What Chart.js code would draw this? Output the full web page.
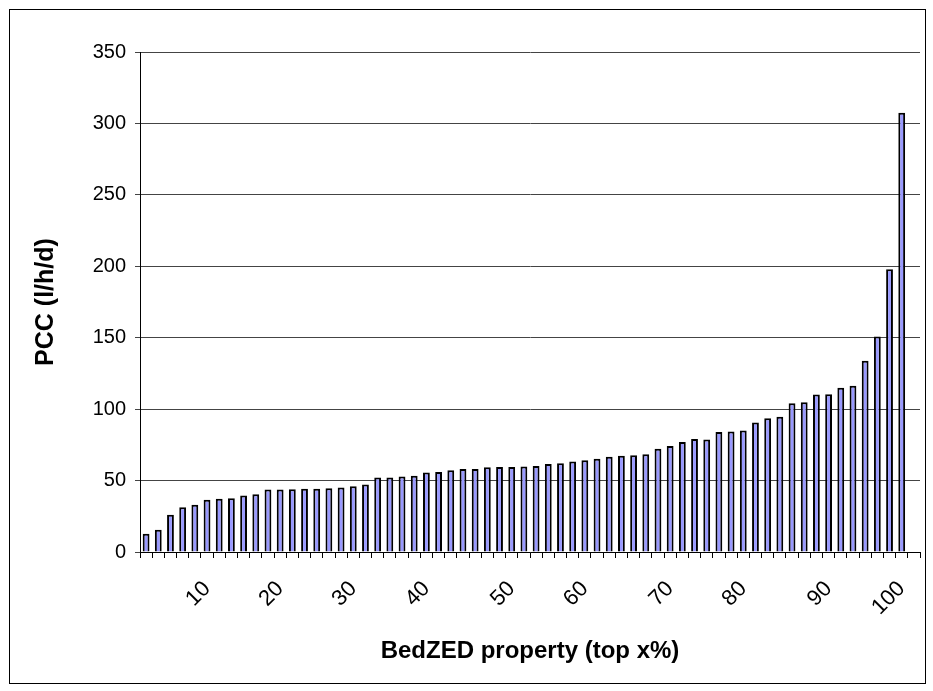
<!DOCTYPE html>
<html>
<head>
<meta charset="utf-8">
<script src="https://cdn.jsdelivr.net/npm/chart.js@4"></script>
<style>
  body { margin: 0; background: #fff; }
  #box { position: absolute; left: 9px; top: 9px; width: 915px; height: 673px; border: 1px solid #000; }
  canvas { display: block; }
</style>
</head>
<body>
<div id="box"><canvas id="pccChart" width="915" height="673"></canvas></div>
<script>
// PCC per property, sorted ascending (63 properties)
const pccValues = [
  12.8, 15.6, 26, 31.4, 33, 36.5, 37.2, 37.7, 39.5, 40.5,
  43.7, 43.7, 44, 44.2, 44.2, 44.7, 45.1, 46, 47.2, 52.1,
  52.1, 52.8, 53.3, 55.6, 56, 57.2, 58.1, 58.1, 59.3, 59.5,
  59.5, 59.8, 60.2, 61.6, 62.1, 63.3, 64.2, 65.3, 66.7, 67.4,
  67.7, 68.4, 72.3, 74.2, 77, 79.1, 78.8, 84, 84.4, 85.1,
  90.7, 93.7, 94.7, 104.2, 104.9, 110.3, 110.5, 115, 116.4, 133.9,
  150.9, 197.9, 307.5
];
// tick labels shown only at these bar positions (1-based)
const labelPositions = [6, 12, 18, 24, 31, 37, 44, 50, 57, 63];
const labelTexts = ["10", "20", "30", "40", "50", "60", "70", "80", "90", "100"];

// one trailing empty category, as in the original axis
const categories = pccValues.concat([null]).map((v, i) => {
  const k = labelPositions.indexOf(i + 1);
  return k >= 0 ? labelTexts[k] : "";
});

const font = "'Liberation Sans', Arial, sans-serif";

new Chart(document.getElementById("pccChart"), {
  type: "bar",
  data: {
    labels: categories,
    datasets: [{
      label: "PCC",
      data: pccValues,
      backgroundColor: "#9999ff",
      borderColor: "#000",
      borderWidth: 2,
      borderSkipped: "bottom",
      barPercentage: 0.56,
      categoryPercentage: 1
    }]
  },
  options: {
    responsive: false,
    animation: false,
    layout: { padding: { top: 42, right: 5, left: 0, bottom: 0 } },
    plugins: { legend: { display: false }, tooltip: { enabled: false } },
    scales: {
      x: {
        afterFit: (s) => { s.height = 131; s.paddingLeft = 0; s.paddingRight = 0; },
        grid: { drawOnChartArea: false, drawTicks: true, tickLength: 6, color: "#000", offset: true },
        border: { color: "#000", width: 1 },
        ticks: {
          autoSkip: false, maxRotation: 45, minRotation: 45,
          color: "#000", font: { family: font, size: 22 }, padding: 18
        },
        title: {
          display: true, text: "BedZED property (top x%)", color: "#000",
          font: { family: font, size: 24, weight: "bold" }, padding: { top: 0, bottom: 17 }
        }
      },
      y: {
        min: 0, max: 350,
        afterFit: (s) => { s.width = 130; s.paddingTop = 0; s.paddingBottom = 0; },
        grid: { color: "#444", lineWidth: 1, drawTicks: true, tickLength: 5 },
        border: { color: "#000", width: 1 },
        ticks: { stepSize: 50, color: "#000", font: { family: font, size: 20 }, padding: 9 },
        title: {
          display: true, text: "PCC (l/h/d)", color: "#000",
          font: { family: font, size: 25, weight: "bold" }, padding: { top: 21, bottom: 0 }
        }
      }
    }
  }
});
</script>
</body>
</html>
